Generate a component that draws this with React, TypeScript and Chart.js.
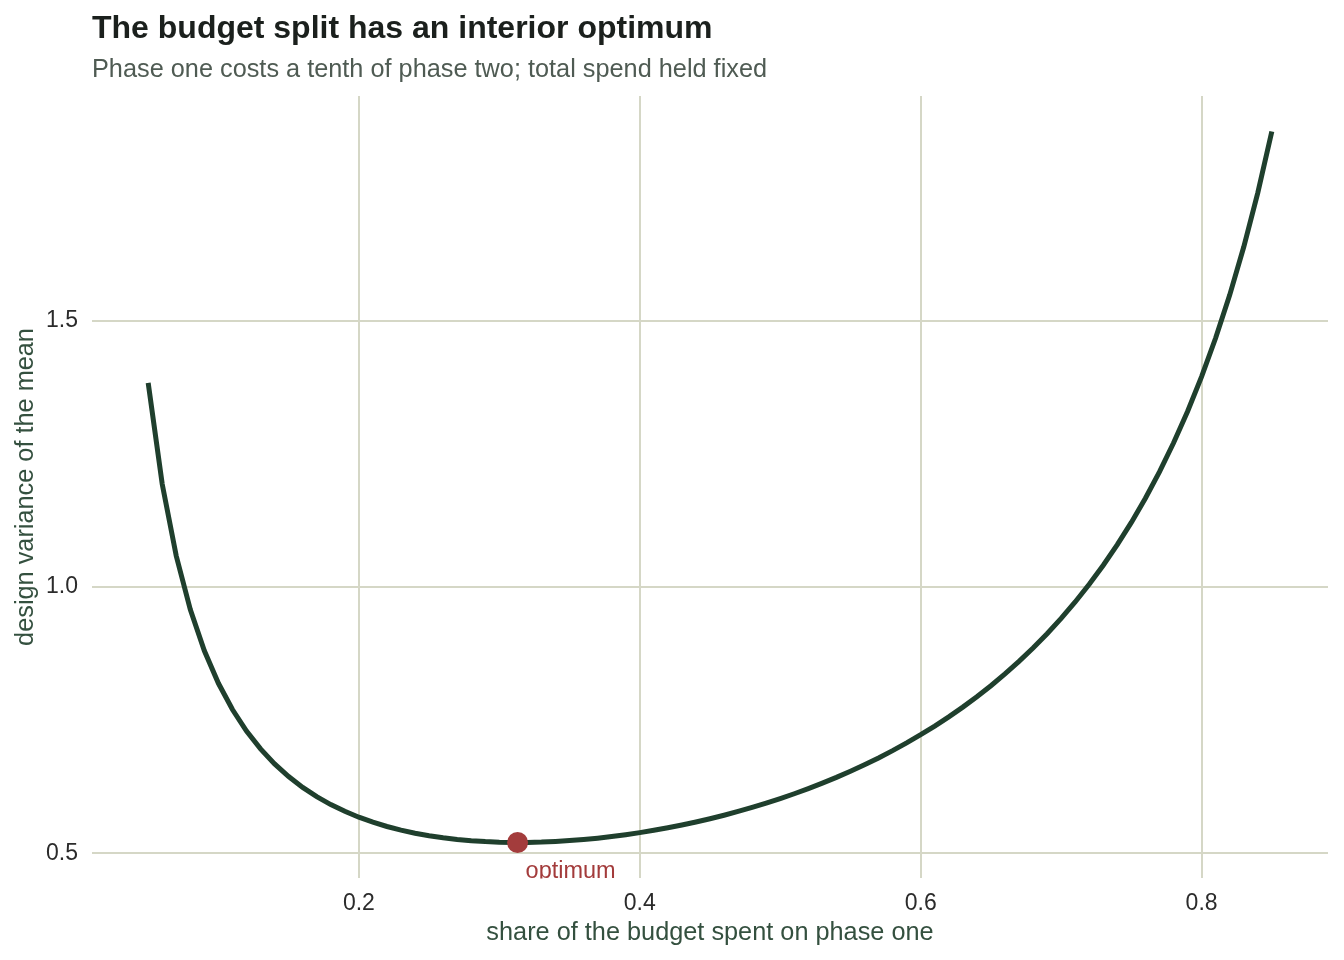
import React, { useEffect, useRef } from "react";
import { Chart, registerables } from "chart.js";

Chart.register(...registerables);

const titleText = "The budget split has an interior optimum";
const subtitleText = "Phase one costs a tenth of phase two; total spend held fixed";
const xAxisTitle = "share of the budget spent on phase one";
const yAxisTitle = "design variance of the mean";
const optimumLabel = "optimum";

const shares = [
  0.05, 0.06, 0.07, 0.08, 0.09, 0.1, 0.11, 0.12, 0.13, 0.14, 0.15, 0.16, 0.17, 0.18, 0.19, 0.2,
  0.21, 0.22, 0.23, 0.24, 0.25, 0.26, 0.27, 0.28, 0.29, 0.3, 0.31, 0.32, 0.33, 0.34, 0.35, 0.36,
  0.37, 0.38, 0.39, 0.4, 0.41, 0.42, 0.43, 0.44, 0.45, 0.46, 0.47, 0.48, 0.49, 0.5, 0.51, 0.52,
  0.53, 0.54, 0.55, 0.56, 0.57, 0.58, 0.59, 0.6, 0.61, 0.62, 0.63, 0.64, 0.65, 0.66, 0.67, 0.68,
  0.69, 0.7, 0.71, 0.72, 0.73, 0.74, 0.75, 0.76, 0.77, 0.78, 0.79, 0.8, 0.81, 0.82, 0.83, 0.84,
  0.85,
];

const variances = [
  1.383, 1.193, 1.058, 0.9575, 0.8803, 0.8192, 0.77, 0.7296, 0.6961, 0.6679, 0.6441, 0.6238,
  0.6065, 0.5916, 0.5789, 0.5679, 0.5585, 0.5505, 0.5437, 0.5379, 0.5331, 0.5292, 0.5261, 0.5238,
  0.5221, 0.521, 0.5205, 0.5206, 0.5212, 0.5224, 0.524, 0.5261, 0.5286, 0.5316, 0.5351, 0.539,
  0.5433, 0.5481, 0.5533, 0.5589, 0.565, 0.5716, 0.5787, 0.5862, 0.5943, 0.6028, 0.6119, 0.6216,
  0.6318, 0.6426, 0.6541, 0.6663, 0.6792, 0.6929, 0.7074, 0.7227, 0.739, 0.7562, 0.7745, 0.794,
  0.8147, 0.8368, 0.8603, 0.8854, 0.9122, 0.941, 0.9718, 1.005, 1.0408, 1.0793, 1.1211, 1.1665,
  1.216, 1.2702, 1.3294, 1.3948, 1.4672, 1.5477, 1.6379, 1.7395, 1.8547,
];

const optimumShare = [0.313];
const optimumVariance = [0.5205];

const xTicks = [0.2, 0.4, 0.6, 0.8];
const yTicks = [0.5, 1.0, 1.5];

const FONT = '"Liberation Sans", Arial, Helvetica, sans-serif';

const textPlugin = {
  id: "extraTexts",
  afterDraw(chart: any) {
    const ctx = chart.ctx;
    ctx.save();
    ctx.textAlign = "left";
    ctx.textBaseline = "alphabetic";
    ctx.fillStyle = "#1b201d";
    ctx.font = `bold 32px ${FONT}`;
    ctx.fillText(titleText, 92, 38);
    ctx.fillStyle = "#4f5b53";
    ctx.font = `25.3px ${FONT}`;
    ctx.fillText(subtitleText, 92, 77);

    const { left, top, right, bottom } = chart.chartArea;
    ctx.beginPath();
    ctx.rect(left, top, right - left, bottom - top + 0.5);
    ctx.clip();
    const px = chart.scales.x.getPixelForValue(optimumShare[0]);
    const py = chart.scales.y.getPixelForValue(optimumVariance[0]);
    ctx.fillStyle = "#a33b3b";
    ctx.font = `23.5px ${FONT}`;
    ctx.textBaseline = "alphabetic";
    ctx.fillText(optimumLabel, px + 8, py + 36);
    ctx.restore();
  },
};

export default function App() {
  const canvasRef = useRef<HTMLCanvasElement | null>(null);

  useEffect(() => {
    if (!canvasRef.current) return;
    const chart = new Chart(canvasRef.current, {
      type: "scatter",
      data: {
        datasets: [
          {
            label: "optimum",
            data: optimumShare.map((x, i) => ({ x, y: optimumVariance[i] })),
            pointRadius: 10.5,
            pointBackgroundColor: "#a33c3c",
            pointBorderWidth: 0,
            showLine: false,
            order: 0,
          },
          {
            label: "variance",
            data: shares.map((x, i) => ({ x, y: variances[i] })),
            showLine: true,
            borderColor: "#1f3f2d",
            borderWidth: 5,
            pointRadius: 0,
            tension: 0,
            order: 1,
          },
        ],
      },
      options: {
        animation: false,
        responsive: false,
        layout: { padding: { top: 96, right: 16, bottom: 0, left: 0 } },
        plugins: {
          legend: { display: false },
          tooltip: { enabled: false },
          title: { display: false },
        },
        scales: {
          x: {
            type: "linear",
            min: 0.01,
            max: 0.89,
            afterBuildTicks: (scale: any) => {
              scale.ticks = xTicks.map((v) => ({ value: v }));
            },
            afterFit: (scale: any) => {
              scale.height = 82;
            },
            grid: { color: "#d5d7c6", lineWidth: 2, drawTicks: false },
            border: { display: false },
            ticks: {
              font: { family: FONT, size: 23 },
              color: "#2b2b2b",
              padding: 12,
              callback: (v: any) => Number(v).toFixed(1),
            },
            title: {
              display: true,
              text: xAxisTitle,
              font: { family: FONT, size: 25.3 },
              color: "#34503f",
              padding: { top: 0, bottom: 12 },
            },
          },
          y: {
            type: "linear",
            min: 0.4538,
            max: 1.9214,
            afterBuildTicks: (scale: any) => {
              scale.ticks = yTicks.map((v) => ({ value: v }));
            },
            afterFit: (scale: any) => {
              scale.width = 92;
            },
            grid: { color: "#d5d7c6", lineWidth: 2, drawTicks: false },
            border: { display: false },
            ticks: {
              font: { family: FONT, size: 23 },
              color: "#2b2b2b",
              padding: 14,
              callback: (v: any) => Number(v).toFixed(1),
            },
            title: {
              display: true,
              text: yAxisTitle,
              font: { family: FONT, size: 25.3 },
              color: "#34503f",
              padding: { top: 11, bottom: 0 },
            },
          },
        },
      },
      plugins: [textPlugin],
    });
    return () => chart.destroy();
  }, []);

  return (
    <div style={{ position: "fixed", left: 0, top: 0, width: 1344, height: 960, background: "#ffffff" }}>
      <canvas ref={canvasRef} width={1344} height={960} style={{ width: 1344, height: 960 }} />
    </div>
  );
}
